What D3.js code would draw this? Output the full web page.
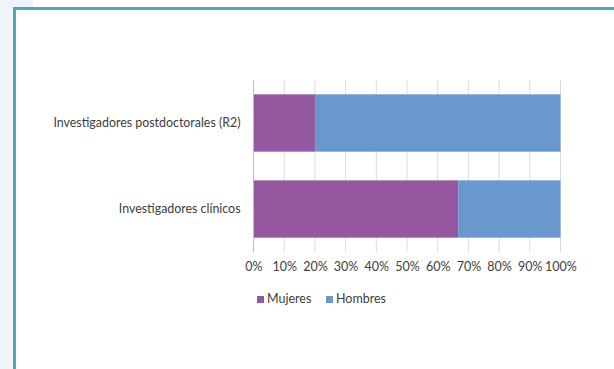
<!DOCTYPE html>
<html>
<head>
<meta charset="utf-8">
<script src="https://cdn.jsdelivr.net/npm/d3@7"></script>
<style>
  body { margin: 0; background: #fff; }
  svg { display: block; }
</style>
</head>
<body>
<div id="chart"></div>
<script>
// data
const categories = ["Investigadores postdoctorales (R2)", "Investigadores clínicos"];
const mujeres = [20, 66.7];
const hombres = [80, 33.3];
const seriesNames = ["Mujeres", "Hombres"];
const seriesColors = ["#9558a0", "#6b97cf"];
const xTicks = [0, 10, 20, 30, 40, 50, 60, 70, 80, 90, 100];

const width = 614, height = 369;
const font = "Lato, 'Open Sans', sans-serif";

const svg = d3.select("#chart").append("svg")
  .attr("width", width)
  .attr("height", height);

// page background and frame
svg.append("rect").attr("x", 0).attr("y", 0).attr("width", 13).attr("height", height).attr("fill", "#eef4f8");
svg.append("rect").attr("x", 0).attr("y", 0).attr("width", 33).attr("height", 7).attr("fill", "#eef4f8");
svg.append("rect").attr("x", 13).attr("y", 7).attr("width", width - 13).attr("height", 3).attr("fill", "#4aa9bb");
svg.append("rect").attr("x", 13).attr("y", 7).attr("width", 3).attr("height", height - 7).attr("fill", "#4aa9bb");

const x = d3.scaleLinear().domain([0, 100]).range([253.5, 560.5]);
const y = d3.scaleBand().domain(categories).range([80, 252]).paddingInner(1 / 3).paddingOuter(1 / 6);

const rows = categories.map((c, i) => ({ cat: c, values: [mujeres[i], hombres[i]] }));

// gridlines
svg.append("g")
  .selectAll("line")
  .data(xTicks.slice(1))
  .join("line")
  .attr("x1", d => x(d)).attr("x2", d => x(d))
  .attr("y1", 80).attr("y2", 252)
  .attr("stroke", "#dcdcdc")
  .attr("stroke-width", 1);

// stacked bars
rows.forEach(r => {
  let acc = 0;
  r.values.forEach((v, j) => {
    svg.append("rect")
      .attr("x", x(acc))
      .attr("y", y(r.cat))
      .attr("width", x(acc + v) - x(acc))
      .attr("height", y.bandwidth())
      .attr("fill", seriesColors[j]);
    acc += v;
  });
});

// baseline
svg.append("line")
  .attr("x1", x(0)).attr("x2", x(0))
  .attr("y1", 80).attr("y2", 252)
  .attr("stroke", "#bdbdbd");

// x axis labels
const xAxis = d3.axisBottom(x).tickValues(xTicks).tickFormat(d => d + "%").tickSize(0).tickPadding(0);
const gx = svg.append("g").attr("transform", "translate(0,262)").call(xAxis);
gx.select(".domain").remove();
gx.selectAll("text")
  .attr("dy", "0.71em")
  .attr("fill", "#404040")
  .style("font-family", font)
  .style("font-size", "12.5px");

// category labels
const yAxis = d3.axisLeft(y).tickSize(0).tickPadding(13);
const gy = svg.append("g").attr("transform", `translate(${x(0)},0)`).call(yAxis);
gy.select(".domain").remove();
gy.selectAll("text")
  .attr("fill", "#404040")
  .style("font-family", font)
  .style("font-size", "12.4px");

// legend
const legendX = [257, 326];
const leg = svg.append("g");
seriesNames.forEach((n, i) => {
  leg.append("rect")
    .attr("x", legendX[i]).attr("y", 296)
    .attr("width", 7).attr("height", 7)
    .attr("fill", seriesColors[i]);
  leg.append("text")
    .attr("x", legendX[i] + 10).attr("y", 299)
    .attr("dy", "0.35em")
    .attr("fill", "#404040")
    .style("font-family", font)
    .style("font-size", "12.5px")
    .text(n);
});
</script>
</body>
</html>
